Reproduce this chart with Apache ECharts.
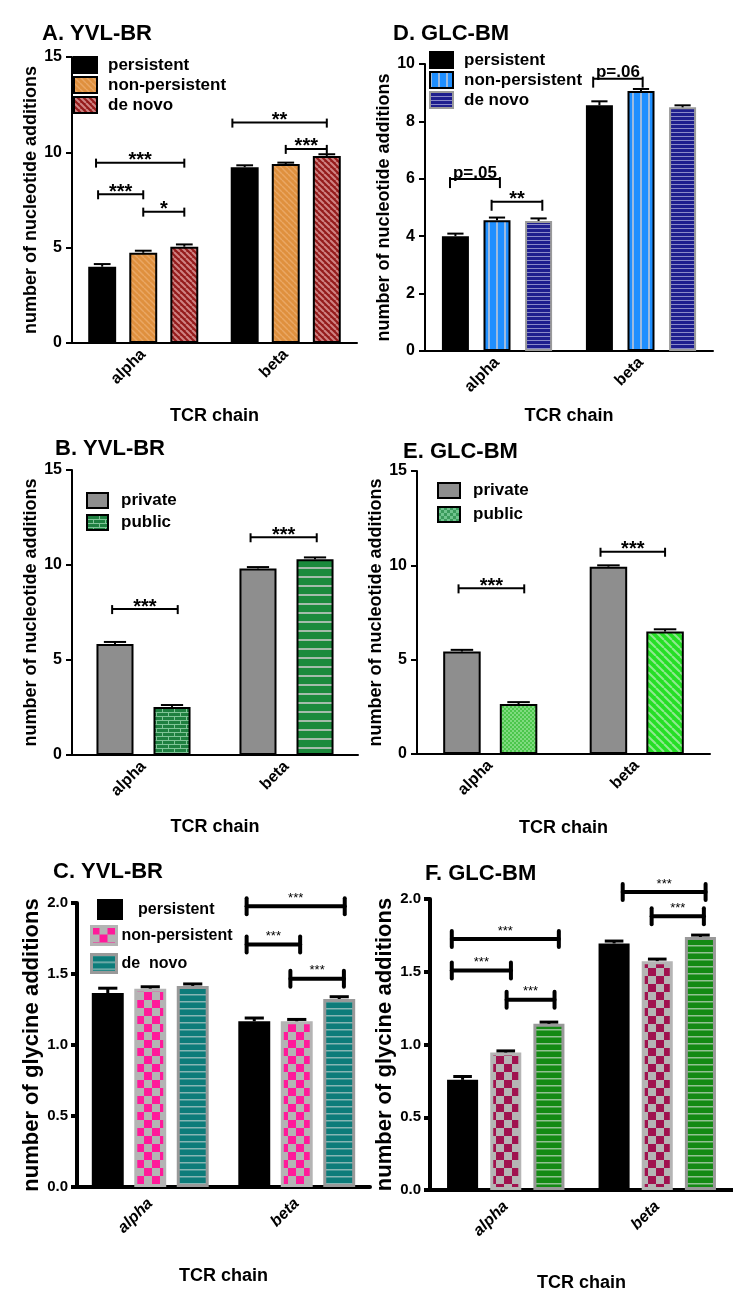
<!DOCTYPE html>
<html><head><meta charset="utf-8">
<script src="https://cdn.jsdelivr.net/npm/echarts@6/dist/echarts.min.js"></script>
<style>html,body{margin:0;padding:0;background:#fff}#c{width:733px;height:1303px}</style>
</head><body><div id="c"></div>
<script>
// ---------------- DATA ----------------
const categories = ['alpha', 'beta'];
const xName = 'TCR chain';
const yNameNuc = 'number of nucleotide additions';
const yNameGly = 'number of glycine additions';
const titles = ['A. YVL-BR', 'B. YVL-BR', 'C. YVL-BR', 'D. GLC-BM', 'E. GLC-BM', 'F. GLC-BM'];

// Panel A (nucleotide additions, YVL-BR)
const aNames = ['persistent', 'non-persistent', 'de novo'];
const aMean = [[4.00, 9.22], [4.73, 9.39], [5.05, 9.81]];
const aErr  = [[4.14, 9.32], [4.84, 9.46], [5.17, 9.90]];
const aSig  = [[0, -0.15, 2, 9.46], [0, -0.1, 1, 7.80], [0, 1, 2, 6.89], [1, -0.3, 2, 11.56], [1, 1, 2, 10.18]];
const aSigLabel = ['***', '***', '*', '**', '***'];

// Panel B (public/private, YVL-BR)
const bNames = ['private', 'public'];
const bMean = [[5.84, 9.82], [2.53, 10.30]];
const bErr  = [[5.95, 9.89], [2.63, 10.40]];
const bSig  = [[0, -0.05, 1.1, 7.68], [1, -0.13, 1.03, 11.46]];
const bSigLabel = ['***', '***'];

// Panel C (glycine additions, YVL-BR)
const cNames = ['persistent', 'non-persistent', 'de  novo'];
const cMean = [[1.366, 1.167], [1.397, 1.167], [1.416, 1.324]];
const cErr  = [[1.400, 1.190], [1.410, 1.180], [1.430, 1.340]];
const cSig  = [[1, -0.18, 2.13, 1.977], [1, -0.18, 1.08, 1.707], [1, 0.85, 2.11, 1.467]];
const cSigLabel = ['***', '***', '***'];

// Panel D (nucleotide additions, GLC-BM)
const dNames = ['persistent', 'non-persistent', 'de novo'];
const dMean = [[4.00, 8.56], [4.56, 9.06], [4.53, 8.49]];
const dErr  = [[4.09, 8.70], [4.65, 9.13], [4.62, 8.56]];
const dSig  = [[0, -0.13, 1.07, 5.99], [0, 0.87, 2.09, 5.20], [1, -0.15, 1.04, 9.49]];
const dSigLabel = ['p=.05', '**', 'p=.06'];

// Panel E (public/private, GLC-BM)
const eNames = ['private', 'public'];
const eMean = [[5.43, 9.93], [2.65, 6.49]];
const eErr  = [[5.52, 10.00], [2.75, 6.61]];
const eSig  = [[0, -0.06, 1.1, 8.78], [1, -0.14, 1.0, 10.72]];
const eSigLabel = ['***', '***'];

// Panel F (glycine additions, GLC-BM)
const fNames = ['persistent', 'non-persistent', 'de novo'];
const fMean = [[0.757, 1.695], [0.945, 1.573], [1.142, 1.739]];
const fErr  = [[0.780, 1.711], [0.956, 1.587], [1.154, 1.752]];
const fSig  = [[0, -0.25, 2.23, 1.725], [0, -0.25, 1.12, 1.509], [0, 1.02, 2.13, 1.307], [1, 0.2, 2.12, 2.048], [1, 0.87, 2.08, 1.881]];
const fSigLabel = ['***', '***', '***', '***', '***'];

// ---------------- STYLE HELPERS ----------------
const FONT = "'Liberation Sans', Arial, Helvetica, sans-serif";
const NARROW = "'Liberation Sans Narrow', 'Arial Narrow', 'Liberation Sans', Arial, sans-serif";

function pat(w, h, draw) {
  const c = document.createElement('canvas'); c.width = w; c.height = h;
  const g = c.getContext('2d'); draw(g, w, h);
  return { image: c, repeat: 'repeat' };
}
function diag(bg, fg, p, lw) {
  return pat(p, p, (g, w, h) => {
    g.fillStyle = bg; g.fillRect(0, 0, w, h);
    g.strokeStyle = fg; g.lineWidth = lw;
    for (const k of [-p, 0, p]) { g.beginPath(); g.moveTo(k, 0); g.lineTo(k + p, p); g.stroke(); }
  });
}
function hstripe(bg, fg, p, t) {
  return pat(4, p, (g, w, h) => { g.fillStyle = bg; g.fillRect(0, 0, w, h); g.fillStyle = fg; g.fillRect(0, 0, w, t); });
}
function vstripe(bg, fg, p, t) {
  return pat(p, 4, (g, w, h) => { g.fillStyle = bg; g.fillRect(0, 0, w, h); g.fillStyle = fg; g.fillRect(0, 0, t, h); });
}
function checker(a, b, s) {
  return pat(2 * s, 2 * s, (g) => { g.fillStyle = b; g.fillRect(0, 0, 2 * s, 2 * s); g.fillStyle = a; g.fillRect(0, 0, s, s); g.fillRect(s, s, s, s); });
}
function brick(bg, fg) {
  return pat(12, 8, (g) => {
    g.fillStyle = bg; g.fillRect(0, 0, 12, 8); g.fillStyle = fg;
    g.fillRect(0, 0, 12, 1); g.fillRect(0, 4, 12, 1); g.fillRect(0, 0, 1, 4); g.fillRect(6, 4, 1, 4);
  });
}

const solidBlack = { color: '#000', border: '#000', bw: 2 };

const panels = [
  { key: 'A', title: titles[0], titlePos: [42, 23], names: aNames, mean: aMean, err: aErr, sig: aSig, sigLab: aSigLabel,
    grid: { left: 72, top: 57, width: 285, height: 286 }, yMax: 15, yInt: 5, yName: yNameNuc,
    barW: 19.6, gap: 47, styles: [solidBlack,
      { color: diag('#df903e', '#eaa764', 6, 1.5), border: '#000', bw: 2 },
      { color: diag('#951b1b', '#cf8282', 6, 2), border: '#000', bw: 2 }],
    legends: [{ left: 73, top: 56, w: 23, h: 16, gap: 2, pad: 6, items: [0, 1, 2] }],
    look: 'std', yNameGap: 31, xNameGap: 64 },
  { key: 'B', title: titles[1], titlePos: [55, 438], names: bNames, mean: bMean, err: bErr, sig: bSig, sigLab: bSigLabel,
    grid: { left: 72, top: 470, width: 286, height: 285 }, yMax: 15, yInt: 5, yName: yNameNuc,
    barW: 25.9, gap: 54, styles: [{ color: '#8e8e8e', border: '#000', bw: 2 },
      { color: brick('#1e8040', '#7fc497'), border: '#000', bw: 2, perCat: [brick('#1e8040', '#7fc497'), hstripe('#1b8a3c', '#a4bcab', 9, 2)] }],
    legends: [{ left: 86, top: 492, w: 21, h: 15, gap: 5, pad: 8, items: [0, 1] }],
    look: 'std', yNameGap: 26, xNameGap: 63 },
  { key: 'C', title: titles[2], titlePos: [53, 861], names: cNames, mean: cMean, err: cErr, sig: cSig, sigLab: cSigLabel,
    grid: { left: 77, top: 903, width: 293, height: 284 }, yMax: 2, yInt: 0.5, yName: yNameGly,
    barW: 21.8, gap: 33, styles: [{ color: '#000', border: '#000', bw: 0 },
      { color: checker('#ff1a9a', '#b4b4b4', 8), border: '#b4b4b4', bw: 3 },
      { color: hstripe('#0d7c7a', '#86b6b4', 7, 1.5), border: '#999', bw: 3 }],
    legends: [{ left: 97, top: 899, w: 26, h: 21, gap: 4, pad: 10, items: [0] },
              { left: 90, top: 925, w: 25, h: 18, gap: 7, pad: 0, items: [1, 2] }],
    look: 'glc', yNameGap: 28, xNameGap: 80 },
  { key: 'D', title: titles[3], titlePos: [393, 23], names: dNames, mean: dMean, err: dErr, sig: dSig, sigLab: dSigLabel,
    grid: { left: 425, top: 64, width: 288, height: 287 }, yMax: 10, yInt: 2, yName: yNameNuc,
    barW: 18.75, gap: 54, styles: [solidBlack,
      { color: vstripe('#1f8fff', '#9dbbe0', 8, 2), border: '#000', bw: 2 },
      { color: hstripe('#1e1e8e', '#8a8ac8', 4, 1), border: '#9a9a9a', bw: 2 }],
    legends: [{ left: 429, top: 51, w: 23, h: 16, gap: 2, pad: 6, items: [0, 1, 2] }],
    look: 'std', yNameGap: 28, xNameGap: 56 },
  { key: 'E', title: titles[4], titlePos: [403, 441], names: eNames, mean: eMean, err: eErr, sig: eSig, sigLab: eSigLabel,
    grid: { left: 417, top: 471, width: 293, height: 283 }, yMax: 15, yInt: 5, yName: yNameNuc,
    barW: 25.6, gap: 51, styles: [{ color: '#8e8e8e', border: '#000', bw: 2 },
      { color: checker('#4cc64c', '#7fdb7f', 2), border: '#000', bw: 2, perCat: [checker('#4cc64c', '#7fdb7f', 2), diag('#25df25', '#90e890', 8, 2)],
        legendColor: checker('#3a9b5c', '#70c48e', 3) }],
    legends: [{ left: 437, top: 482, w: 22, h: 15, gap: 7, pad: 8, items: [0, 1] }],
    look: 'std', yNameGap: 22, xNameGap: 65 },
  { key: 'F', title: titles[5], titlePos: [425, 863], names: fNames, mean: fMean, err: fErr, sig: fSig, sigLab: fSigLabel,
    grid: { left: 430, top: 899, width: 303, height: 291 }, yMax: 2, yInt: 0.5, yName: yNameGly,
    barW: 20.5, gap: 39, styles: [{ color: '#000', border: '#000', bw: 0 },
      { color: checker('#a0124f', '#b5b5b5', 8), border: '#b5b5b5', bw: 3 },
      { color: hstripe('#148a14', '#92c292', 7, 1.5), border: '#999', bw: 3 }],
    legends: [],
    look: 'glc', yNameGap: 24, xNameGap: 84 }
];

// ---------------- RENDERERS ----------------
function errRender(p, lw) {
  const n = p.names.length, bwF = p.barW / 100, gF = p.gap / 100;
  return function (params, api) {
    const cat = api.value(0), slot = api.value(1), m = api.value(2), e = api.value(3);
    const band = api.size([1, 0])[0];
    const bw = band * bwF, step = bw * (1 + gF);
    const c0 = api.coord([cat, m]), c1 = api.coord([cat, e]);
    const x = c0[0] + (slot - (n - 1) / 2) * step;
    const hw = bw * 0.3;
    return { type: 'group', children: [
      { type: 'line', shape: { x1: x, y1: c0[1], x2: x, y2: c1[1] }, style: { stroke: '#000', lineWidth: lw } },
      { type: 'line', shape: { x1: x - hw, y1: c1[1], x2: x + hw, y2: c1[1] }, style: { stroke: '#000', lineWidth: lw } }
    ] };
  };
}
function sigRender(p, cfg) {
  const n = p.names.length, bwF = p.barW / 100, gF = p.gap / 100;
  return function (params, api) {
    const r = p.sig[params.dataIndex];
    const lab = p.sigLab[params.dataIndex];
    const band = api.size([1, 0])[0];
    const step = band * bwF * (1 + gF);
    const c = api.coord([r[0], r[3]]);
    const xa = c[0] + (r[1] - (n - 1) / 2) * step;
    const xb = c[0] + (r[2] - (n - 1) / 2) * step;
    const y = c[1];
    const st = { stroke: '#000', lineWidth: cfg.lw, lineCap: cfg.cap };
    const isP = lab.charAt(0) === 'p';
    return { type: 'group', children: [
      { type: 'line', shape: { x1: xa, y1: y, x2: xb, y2: y }, style: st },
      { type: 'line', shape: { x1: xa, y1: y - cfg.up, x2: xa, y2: y + cfg.down }, style: st },
      { type: 'line', shape: { x1: xb, y1: y - cfg.up, x2: xb, y2: y + cfg.down }, style: st },
      { type: 'text', style: { x: (xa + xb) / 2, y: y - (isP ? 6 : cfg.dy), text: lab, fill: '#000',
          font: (isP ? cfg.pFont : cfg.font), align: 'center', verticalAlign: 'middle' } }
    ] };
  };
}

// ---------------- OPTION ----------------
const option = { animation: false, backgroundColor: '#fff', textStyle: { fontFamily: FONT },
  title: [], grid: [], xAxis: [], yAxis: [], legend: [], series: [] };

panels.forEach((p, k) => {
  const glc = p.look === 'glc';
  const axW = glc ? 4 : 2;
  option.title.push({ text: p.title, left: p.titlePos[0], top: p.titlePos[1], padding: 0,
    textStyle: { fontSize: 22, fontWeight: 'bold', color: '#000', fontFamily: FONT } });
  option.grid.push(Object.assign({ containLabel: false, outerBoundsMode: 'none' }, p.grid));
  option.xAxis.push({ gridIndex: k, type: 'category', data: categories,
    axisLine: { lineStyle: { color: '#000', width: axW } },
    axisTick: { alignWithLabel: true, length: glc ? 9 : 6, lineStyle: { color: '#000', width: axW } },
    axisLabel: { rotate: 45, color: '#000', fontFamily: glc ? NARROW : FONT, fontSize: 16,
      fontWeight: 'bold', fontStyle: glc ? 'italic' : 'normal', margin: glc ? 14 : 9 },
    splitLine: { show: false },
    name: xName, nameLocation: 'middle', nameGap: p.xNameGap,
    nameTextStyle: { color: '#000', fontFamily: glc ? NARROW : FONT, fontSize: 18, fontWeight: 'bold' } });
  option.yAxis.push({ gridIndex: k, type: 'value', min: 0, max: p.yMax, interval: p.yInt,
    axisLine: { show: true, lineStyle: { color: '#000', width: axW } },
    axisTick: { show: true, length: 6, lineStyle: { color: '#000', width: axW } },
    axisLabel: { color: '#000', fontFamily: glc ? NARROW : FONT, fontSize: glc ? 15 : 16, fontWeight: 'bold', margin: glc ? 9 : 10,
      formatter: glc ? (v => v.toFixed(1)) : (v => String(v)) },
    splitLine: { show: false },
    name: p.yName, nameLocation: 'middle', nameRotate: 90, nameGap: p.yNameGap,
    nameTextStyle: { color: '#000', fontFamily: FONT, fontSize: glc ? 22 : 18, fontWeight: 'bold' } });

  p.names.forEach((nm, i) => {
    const s = p.styles[i];
    option.series.push({ type: 'bar', name: p.key + '|' + nm, xAxisIndex: k, yAxisIndex: k,
      barWidth: p.barW + '%', barGap: p.gap + '%', silent: true, z: 2,
      itemStyle: { color: s.color, borderColor: s.border, borderWidth: s.bw },
      data: p.mean[i].map((v, j) => s.perCat ? { value: v, itemStyle: { color: s.perCat[j] } } : v) });
  });

  const errData = [];
  p.names.forEach((nm, i) => categories.forEach((c, j) => errData.push([j, i, p.mean[i][j], p.err[i][j]])));
  option.series.push({ type: 'custom', xAxisIndex: k, yAxisIndex: k, silent: true, z: 5,
    renderItem: errRender(p, glc ? 3 : 2), encode: { x: 0, y: 3 }, data: errData });

  const cfg = glc ? { lw: 4, cap: 'round', up: 8, down: 8, dy: 8, font: '13px ' + FONT, pFont: 'bold 17px ' + FONT }
                  : { lw: 2, cap: 'butt', up: 4, down: 5, dy: 2, font: 'bold 20px ' + FONT, pFont: 'bold 17px ' + FONT };
  if (p.key === 'D') { cfg.up = 2; cfg.down = 9; }
  option.series.push({ type: 'custom', xAxisIndex: k, yAxisIndex: k, silent: true, z: 6, clip: false,
    renderItem: sigRender(p, cfg), encode: { x: 0, y: 3 }, data: p.sig.map(r => [r[0], r[1], r[2], r[3]]) });

  p.legends.forEach(L => {
    option.legend.push({ orient: 'vertical', left: L.left, top: L.top, padding: 0, itemWidth: L.w, itemHeight: L.h,
      itemGap: L.gap, icon: 'rect', selectedMode: false,
      formatter: name => name.split('|')[1],
      textStyle: { color: '#000', fontFamily: glc ? NARROW : FONT, fontSize: glc ? 16 : 17, fontWeight: 'bold', padding: [0, 0, 0, L.pad] },
      data: L.items.map(i => {
        const s = p.styles[i];
        return { name: p.key + '|' + p.names[i], icon: 'rect',
          itemStyle: { color: s.legendColor || s.color, borderColor: s.border, borderWidth: s.bw } };
      }) });
  });
});

const chart = echarts.init(document.getElementById('c'), null, { renderer: 'canvas' });
chart.setOption(option);
</script></body></html>
